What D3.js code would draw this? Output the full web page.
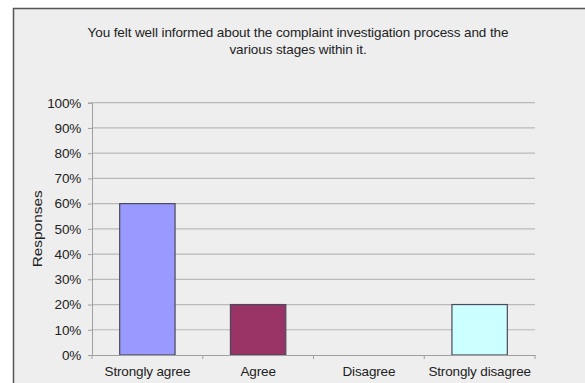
<!DOCTYPE html>
<html>
<head>
<meta charset="utf-8">
<script src="https://cdn.jsdelivr.net/npm/d3@7"></script>
<style>
  html, body { margin: 0; padding: 0; background: #ffffff; }
  svg { display: block; }
  text { font-family: Arial, "Liberation Sans", sans-serif; fill: #222; }
</style>
</head>
<body>
<script>
// Survey responses
const categories = ["Strongly agree", "Agree", "Disagree", "Strongly disagree"];
const values = [0.60, 0.20, 0.00, 0.20];
const barColors = ["#9999ff", "#993366", "#ffffcc", "#ccffff"];
const yTicks = [0, 0.1, 0.2, 0.3, 0.4, 0.5, 0.6, 0.7, 0.8, 0.9, 1.0];
const titleLines = [
  "You felt well informed about the complaint investigation process and the",
  "various stages within it."
];
const yAxisTitle = "Responses";

const W = 585, H = 383;
const plot = { left: 92, right: 535, top: 102.7, bottom: 355 };

const svg = d3.select("body").append("svg").attr("width", W).attr("height", H);

// chart frame
svg.append("rect").attr("x", 13.5).attr("y", 8.5).attr("width", W).attr("height", H)
  .attr("fill", "#eeeeee").attr("stroke", "#555").attr("stroke-width", 1.5);

const x = d3.scaleBand().domain(categories).range([plot.left, plot.right]).paddingInner(0.5).paddingOuter(0.25);
const xb = d3.scaleBand().domain(categories).range([plot.left, plot.right]);
const y = d3.scaleLinear().domain([0, 1]).range([plot.bottom, plot.top]);

// gridlines
svg.append("g").selectAll("line").data(yTicks.filter(t => t > 0)).join("line")
  .attr("x1", plot.left).attr("x2", plot.right)
  .attr("y1", d => y(d)).attr("y2", d => y(d))
  .attr("stroke", "#b9b9b9").attr("stroke-width", 1.2);

// y axis
const yAxis = d3.axisLeft(y).tickValues(yTicks).tickFormat(d3.format(".0%")).tickSize(4).tickPadding(7);
const gy = svg.append("g").attr("transform", `translate(${plot.left},0)`).call(yAxis);
gy.select(".domain").attr("stroke", "#a0a0a0");
gy.selectAll(".tick line").attr("stroke", "#a0a0a0");
gy.selectAll("text").attr("font-size", 13.5).attr("fill", "#333").style("letter-spacing", "-0.2px");

// bars
svg.append("g").selectAll("rect").data(categories.map((c, i) => ({ c, v: values[i], col: barColors[i] })))
  .join("rect")
  .filter(d => d.v > 0)
  .attr("x", d => x(d.c)).attr("width", x.bandwidth())
  .attr("y", d => y(d.v)).attr("height", d => y(0) - y(d.v))
  .attr("fill", d => d.col).attr("stroke", "#4a4a5a").attr("stroke-width", 1.2);

// x axis
const xAxis = d3.axisBottom(xb).tickSize(0).tickPadding(11);
const gx = svg.append("g").attr("transform", `translate(0,${plot.bottom})`).call(xAxis);
gx.select(".domain").attr("stroke", "#a0a0a0");
gx.selectAll("text").attr("font-size", 13.5).attr("fill", "#333").style("letter-spacing", "-0.15px");
// category separators
svg.append("g").selectAll("line").data(categories.map(c => xb(c)).concat([plot.right]))
  .join("line")
  .attr("x1", d => d).attr("x2", d => d)
  .attr("y1", plot.bottom).attr("y2", plot.bottom + 4)
  .attr("stroke", "#a0a0a0");

// y axis title
svg.append("text").attr("transform", `translate(41.5,${(plot.top + plot.bottom) / 2}) rotate(-90)`)
  .attr("text-anchor", "middle").attr("font-size", 13.5).attr("fill", "#333")
  .attr("textLength", 77).attr("lengthAdjust", "spacingAndGlyphs")
  .text(yAxisTitle);

// chart title
svg.append("g").selectAll("text").data(titleLines).join("text")
  .attr("x", 298).attr("y", (d, i) => 37 + i * 16.5)
  .attr("text-anchor", "middle").attr("font-size", 13.5).attr("fill", "#1a1a1a")
  .style("letter-spacing", "-0.1px")
  .text(d => d);
</script>
</body>
</html>
